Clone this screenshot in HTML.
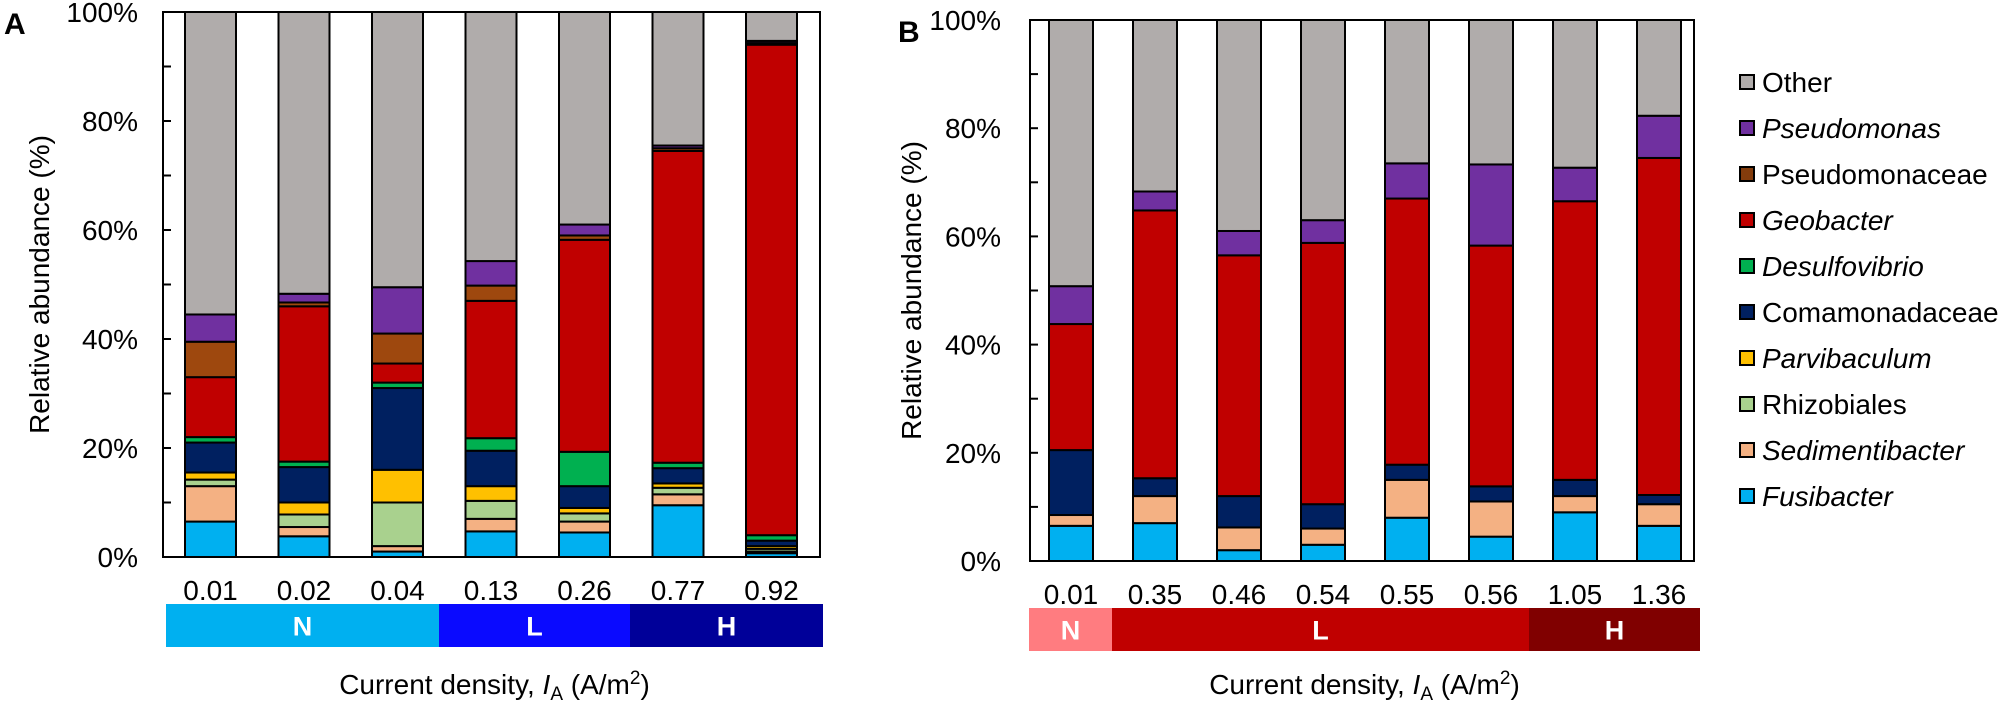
<!DOCTYPE html>
<html><head><meta charset="utf-8">
<style>
html,body{margin:0;padding:0;background:#fff;}
svg{display:block;font-family:"Liberation Sans",Arial,sans-serif;}
</style></head>
<body>
<svg id="chart" width="2008" height="705" viewBox="0 0 2008 705" xmlns="http://www.w3.org/2000/svg"></svg>
<script>
// ---- data ----
const seriesNames = ["Fusibacter","Sedimentibacter","Rhizobiales","Parvibaculum","Comamonadaceae","Desulfovibrio","Geobacter","Pseudomonaceae","Pseudomonas","Other"];
const seriesItalic = [true,true,false,true,false,true,true,false,true,false];
const seriesColors = ["#00b0f0","#f4b183","#a9d18e","#ffc000","#002060","#00b050","#c00000","#9e480e","#7030a0","#b0acab"];
const legendColors = ["#00b0f0","#f4b183","#a9d18e","#ffc000","#002060","#00b050","#c00000","#843c0c","#7030a0","#b0acab"];

const catsA = ["0.01","0.02","0.04","0.13","0.26","0.77","0.92"];
const fusiA = [6.5,3.8,1,4.7,4.5,9.5,0.7];
const sedA = [6.5,1.7,1,2.3,2,2,0.3];
const rhizoA = [1.2,2.3,8,3.3,1.5,1.2,0.5];
const parviA = [1.3,2.2,6,2.7,1,0.8,0.5];
const comamA = [5.5,6.5,15,6.5,4,2.8,1];
const desulfoA = [1,1,1,2.3,6.3,1,1];
const geoA = [11,28.5,3.5,25.2,38.9,57.2,90];
const pmaceaeA = [6.5,0.7,5.5,2.8,0.8,0.5,0.3];
const pmonasA = [5,1.6,8.5,4.5,2,0.5,0.4];
const otherA = [55.5,51.7,50.5,45.7,39,24.5,5.3];

const catsB = ["0.01","0.35","0.46","0.54","0.55","0.56","1.05","1.36"];
const fusiB = [6.5,7,2,3,8,4.5,9,6.5];
const sedB = [2,5,4.2,3,7,6.5,3,4];
const rhizoB = [0,0,0,0,0,0,0,0];
const parviB = [0,0,0,0,0,0,0,0];
const comamB = [12,3.3,5.8,4.5,2.8,2.8,3,1.7];
const desulfoB = [0,0,0,0,0,0,0,0];
const geoB = [23.3,49.5,44.5,48.3,49.2,44.5,51.5,62.3];
const pmaceaeB = [0,0,0,0,0,0,0,0];
const pmonasB = [7,3.5,4.5,4.2,6.5,15,6.2,7.8];
const otherB = [49.2,31.7,39,37,26.5,26.7,27.3,17.7];

const yTickLabels = ["0%","20%","40%","60%","80%","100%"];
const groupLabelsA = ["N","L","H"];
const groupSpansA = [3,2,2];
const groupLabelsB = ["N","L","H"];
const groupSpansB = [1,5,2];

// ---- drawing ----
const NS = "http://www.w3.org/2000/svg";
const svg = document.getElementById("chart");
function mk(tag, attrs, parent){
  const e = document.createElementNS(NS, tag);
  for (const k in attrs) e.setAttribute(k, attrs[k]);
  (parent||svg).appendChild(e);
  return e;
}

function panel(cfg){
  const g = mk("g", {});
  
  
  const y = v => cfg.y0 - (v/100)*(cfg.y0-cfg.y1);
  const xLeft = i => cfg.firstBar + i*cfg.step;
  // bars
  cfg.series.forEach((arr, s) => {
    let acc = cfg.series.slice(0,s);
    arr.forEach((v, i) => {
      if (v <= 0) return;
      let base = 0; for (const a of acc) base += a[i];
      const r = mk("rect", {x:xLeft(i), y:y(base+v), width:cfg.barW, height:y(base)-y(base+v),
        fill:seriesColors[s], stroke:"#000", "stroke-width":2}, g);
      
      
    });
  });
  // frame
  const fr = mk("rect", {x:cfg.axX, y:cfg.y1, width:cfg.axR-cfg.axX, height:cfg.y0-cfg.y1, fill:"none", stroke:"#000", "stroke-width":2}, g);
  
  
  // ticks
  for (let t=0;t<=10;t++){
    const ty = y(t*10);
    const tk = mk("line", {x1:cfg.axX, x2:cfg.axX+8, y1:ty, y2:ty, stroke:"#000","stroke-width":2}, g);
    
    
  }
  yTickLabels.forEach((lab, k) => {
    const t = mk("text", {x:cfg.labR, y:y(k*20)+10, "text-anchor":"end", "font-size":28, fill:"#000"}, g);
    t.textContent = lab;
    
    
  });
  // category labels
  cfg.cats.forEach((c, i) => {
    const t = mk("text", {x:xLeft(i)+cfg.barW/2, y:cfg.catY, "text-anchor":"middle", "font-size":28, fill:"#000"}, g);
    t.textContent = c;
    
    
  });
  // group band
  let start = 0;
  cfg.groupSpans.forEach((n, k) => {
    const x0 = cfg.bandEdges[k], x1 = cfg.bandEdges[k+1];
    const r = mk("rect", {x:x0, y:cfg.bandY, width:x1-x0, height:cfg.bandH, fill:cfg.bandColors[k]}, g);
    
    
    const t = mk("text", {x:(x0+x1)/2, y:cfg.bandY+cfg.bandH/2+10, "text-anchor":"middle", "font-size":27, "font-weight":"bold", fill:"#fff"}, g);
    t.textContent = cfg.groupLabels[k];
    
    
    start += n;
  });
  // y title
  const yt = mk("text", {x:0, y:0, transform:`translate(${cfg.yTitleX},${(cfg.y0+cfg.y1)/2}) rotate(-90)`, "text-anchor":"middle", "font-size":28, fill:"#000"}, g);
  yt.textContent = "Relative abundance (%)";
  
  
  // x title
  const xt = mk("text", {x:(cfg.bandEdges[0]+cfg.bandEdges[cfg.bandEdges.length-1])/2, y:694, "text-anchor":"middle", "font-size":28, fill:"#000"}, g);
  xt.innerHTML = 'Current density, <tspan font-style="italic">I</tspan><tspan font-size="19" dy="6">A</tspan><tspan dy="-6"> (A/m</tspan><tspan font-size="19" dy="-10">2</tspan><tspan dy="10">)</tspan>';
  
  
  // panel letter
  const pl = mk("text", {x:cfg.letterX, y:cfg.y1+22, "font-size":30, "font-weight":"bold", fill:"#000"}, g);
  pl.textContent = cfg.letter;
  
  
}

panel({name:"panel-a", letter:"A", letterX:4, cats:catsA,
  series:[fusiA,sedA,rhizoA,parviA,comamA,desulfoA,geoA,pmaceaeA,pmonasA,otherA],
  axX:163, axR:820, y0:557, y1:12, firstBar:185, step:93.5, barW:51,
  labR:138, catY:600, bandY:604, bandH:43, yTitleX:49,
  groupLabels:groupLabelsA, groupSpans:groupSpansA,
  bandEdges:[166,439,630,823], bandColors:["#00b0f0","#0a0aff","#000099"]});

panel({name:"panel-b", letter:"B", letterX:898, cats:catsB,
  series:[fusiB,sedB,rhizoB,parviB,comamB,desulfoB,geoB,pmaceaeB,pmonasB,otherB],
  axX:1030, axR:1694, y0:561, y1:20, firstBar:1049, step:84, barW:44,
  labR:1001, catY:604, bandY:608, bandH:43, yTitleX:921,
  groupLabels:groupLabelsB, groupSpans:groupSpansB,
  bandEdges:[1029,1112,1529,1700], bandColors:["#ff7c80","#c00000","#800000"]});

// legend (top = Other)
const lg = mk("g", {});


for (let r=0; r<10; r++){
  const s = 9 - r;
  const cy = 82 + r*46;
  const sq = mk("rect", {x:1740, y:cy-7, width:14, height:14, fill:legendColors[s], stroke:"#000", "stroke-width":2}, lg);
  
  
  const t = mk("text", {x:1762, y:cy+10, "font-size":28, fill:"#000"}, lg);
  if (seriesItalic[s]) t.setAttribute("font-style","italic");
  t.textContent = seriesNames[s];
  
  
}
</script>
</body></html>
